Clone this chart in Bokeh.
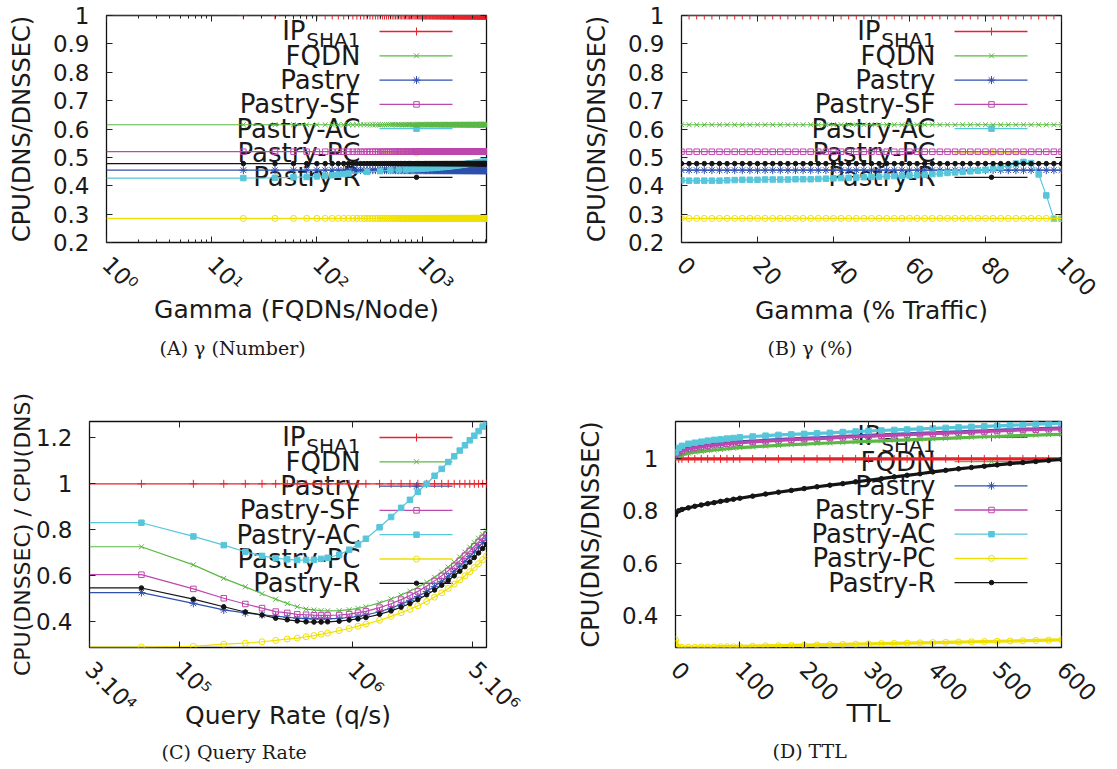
import math
from bokeh.plotting import figure
from bokeh.models import Range1d, LinearScale, FixedTicker, LinearAxis, LogAxis, Label, Title
from bokeh.layouts import column, row
from bokeh.embed import file_html
from bokeh.resources import INLINE

# ---------------- series names / styles ----------------
names = ["IP", "FQDN", "Pastry", "Pastry-SF", "Pastry-AC", "Pastry-PC", "Pastry-R"]
colors = ["#e5232a", "#5cb845", "#2f50ad", "#bd48ad", "#58c6da", "#efe000", "#141414"]
markers = ["cross", "x", "asterisk", "square", "square", "circle", "circle"]
msizes = [8, 7, 8, 5.5, 5.5, 6, 4.5]
filled = [False, False, False, False, True, False, True]

# ---------------- (a) gamma: FQDNs per node (log x) ----------------
a_x = list(range(20, 4101, 20))
a_ip = 1.0
a_fqdn = 0.615
a_pastry = 0.455
a_sf = 0.52
a_pc = 0.285
a_r = 0.478
a_ac_x = list(range(20, 201, 20)) + list(range(300, 4101, 100))
a_ac = [0.427, 0.428, 0.430, 0.431, 0.433, 0.435, 0.437, 0.439, 0.441, 0.443,
        0.449, 0.452, 0.455, 0.456, 0.457, 0.458, 0.459, 0.460,
        0.461, 0.462, 0.463, 0.464, 0.465, 0.466, 0.467, 0.468, 0.469, 0.470,
        0.471, 0.472, 0.473, 0.474, 0.475, 0.476, 0.477, 0.478, 0.479, 0.479,
        0.480, 0.481, 0.481, 0.482, 0.483, 0.483, 0.484, 0.485, 0.485, 0.486, 0.486]

# ---------------- (b) gamma: % traffic ----------------
b_x = list(range(0, 101, 2))
b_ip = 1.0
b_fqdn = 0.615
b_pastry = 0.455
b_sf = 0.52
b_pc = 0.285
b_r = 0.478
b_ac = [0.419, 0.418, 0.418, 0.418, 0.418, 0.418, 0.419, 0.420, 0.421, 0.421,
        0.421, 0.422, 0.422, 0.422, 0.422, 0.423, 0.423, 0.423, 0.424, 0.425,
        0.426, 0.427, 0.428, 0.429, 0.430, 0.431, 0.432, 0.433, 0.434, 0.435,
        0.436, 0.437, 0.439, 0.441, 0.443, 0.445, 0.447, 0.449, 0.451, 0.453,
        0.456, 0.460, 0.465, 0.472, 0.478, 0.484, 0.480, 0.440, 0.366, 0.284,
        0.284]

# ---------------- (c) query rate (log x) ----------------
c_x = [60000, 120000, 180000, 240000, 300000, 360000, 420000, 480000, 540000, 600000,
       660000, 720000, 840000, 960000, 1080000, 1200000, 1440000, 1680000, 1920000,
       2160000, 2400000, 2700000, 3000000, 3300000, 3600000, 3900000, 4200000,
       4500000, 4800000, 5100000, 5400000, 5700000, 6000000]
c_ip = 1.0
c_fqdn = [0.725, 0.646, 0.587, 0.550, 0.520, 0.496, 0.477, 0.463, 0.453, 0.449, 0.446, 0.445,
          0.446, 0.450, 0.456, 0.463, 0.480, 0.497, 0.514, 0.531, 0.548,
          0.570, 0.592, 0.614, 0.636, 0.658, 0.680, 0.702, 0.723, 0.743, 0.762, 0.779, 0.795]
c_pastry = [0.525, 0.478, 0.449, 0.436, 0.428, 0.422, 0.417, 0.413, 0.411, 0.410, 0.410, 0.410,
            0.412, 0.416, 0.421, 0.427, 0.441, 0.457, 0.474, 0.491, 0.508,
            0.530, 0.552, 0.574, 0.596, 0.618, 0.640, 0.661, 0.682, 0.703, 0.723, 0.743, 0.762]
c_sf = [0.603, 0.541, 0.500, 0.475, 0.457, 0.442, 0.436, 0.430, 0.428, 0.426, 0.425, 0.425,
        0.427, 0.431, 0.437, 0.443, 0.459, 0.476, 0.494, 0.512, 0.530,
        0.553, 0.576, 0.598, 0.620, 0.642, 0.664, 0.686, 0.707, 0.727, 0.746, 0.764, 0.780]
c_ac = [0.830, 0.770, 0.732, 0.703, 0.685, 0.675, 0.670, 0.667, 0.667, 0.668, 0.672, 0.677,
        0.690, 0.712, 0.735, 0.760, 0.810, 0.855, 0.895, 0.930, 0.965,
        1.000, 1.035, 1.065, 1.095, 1.120, 1.145, 1.168, 1.190, 1.210, 1.230, 1.250, 1.270]
c_pc = [0.287, 0.290, 0.300, 0.304, 0.310, 0.316, 0.322, 0.326, 0.332, 0.337, 0.343, 0.348,
        0.359, 0.368, 0.378, 0.387, 0.404, 0.421, 0.437, 0.452, 0.467,
        0.486, 0.505, 0.524, 0.543, 0.562, 0.580, 0.598, 0.616, 0.634, 0.651, 0.668, 0.685]
c_r = [0.545, 0.496, 0.463, 0.440, 0.427, 0.413, 0.406, 0.401, 0.397, 0.396, 0.396, 0.397,
       0.400, 0.405, 0.410, 0.416, 0.430, 0.445, 0.461, 0.477, 0.494,
       0.515, 0.536, 0.557, 0.578, 0.598, 0.618, 0.638, 0.658, 0.678, 0.698, 0.717, 0.735]

# ---------------- (d) TTL ----------------
d_x = [0, 5, 10, 20, 30, 40, 50, 60, 70, 80, 90, 100] + list(range(120, 601, 20))
d_ip = 1.0
d_fqdn = [1.003, 1.011, 1.015, 1.022, 1.026, 1.029, 1.032, 1.034, 1.036, 1.039, 1.041, 1.043,
          1.046, 1.049, 1.052, 1.055, 1.057, 1.059, 1.061, 1.063, 1.065, 1.067, 1.069, 1.071,
          1.073, 1.075, 1.077, 1.079, 1.081, 1.083, 1.085, 1.086, 1.088, 1.090, 1.091, 1.093, 1.094]
d_pastry = [1.013, 1.027, 1.033, 1.041, 1.045, 1.049, 1.053, 1.056, 1.058, 1.061, 1.063, 1.065,
            1.068, 1.071, 1.074, 1.077, 1.079, 1.081, 1.083, 1.086, 1.088, 1.090, 1.092, 1.094,
            1.096, 1.098, 1.100, 1.102, 1.104, 1.106, 1.108, 1.110, 1.112, 1.114, 1.115, 1.117, 1.118]
d_sf = [1.010, 1.024, 1.030, 1.038, 1.042, 1.046, 1.050, 1.053, 1.055, 1.058, 1.060, 1.062,
        1.065, 1.068, 1.071, 1.074, 1.076, 1.078, 1.080, 1.083, 1.085, 1.087, 1.089, 1.091,
        1.093, 1.095, 1.097, 1.099, 1.101, 1.103, 1.105, 1.107, 1.109, 1.111, 1.112, 1.114, 1.115]
d_ac = [1.025, 1.042, 1.050, 1.058, 1.062, 1.066, 1.070, 1.073, 1.075, 1.078, 1.080, 1.083,
        1.086, 1.089, 1.092, 1.094, 1.096, 1.098, 1.100, 1.103, 1.105, 1.107, 1.109, 1.111,
        1.113, 1.115, 1.117, 1.119, 1.121, 1.123, 1.125, 1.127, 1.129, 1.131, 1.133, 1.135, 1.137]
d_pc = [0.305, 0.278, 0.277, 0.277, 0.277, 0.278, 0.278, 0.278, 0.279, 0.279, 0.279, 0.280,
        0.281, 0.282, 0.283, 0.284, 0.285, 0.286, 0.287, 0.288, 0.289, 0.290, 0.291, 0.292,
        0.293, 0.294, 0.295, 0.296, 0.297, 0.298, 0.299, 0.300, 0.301, 0.302, 0.303, 0.304, 0.305]
d_r = [0.785, 0.801, 0.806, 0.812, 0.818, 0.823, 0.828, 0.832, 0.837, 0.841, 0.845, 0.849,
       0.857, 0.865, 0.872, 0.879, 0.886, 0.893, 0.899, 0.905, 0.912, 0.918, 0.924, 0.931,
       0.937, 0.943, 0.950, 0.956, 0.962, 0.967, 0.972, 0.977, 0.982, 0.986, 0.990, 0.994, 0.998]

# ---------------- tick labels ----------------
a_xticks = [1, 10, 100, 1000]
a_xminor = [2, 3, 4, 5, 6, 7, 8, 9, 20, 30, 40, 50, 60, 70, 80, 90,
            200, 300, 400, 500, 600, 700, 800, 900, 2000, 3000, 4000]
a_xlabels = {1: "10\u2070", 10: "10\u00b9", 100: "10\u00b2", 1000: "10\u00b3"}
ab_yticks = [0.2, 0.3, 0.4, 0.5, 0.6, 0.7, 0.8, 0.9, 1.0]
b_xticks = [0, 20, 40, 60, 80, 100]
c_xticks = [30000, 100000, 1000000, 5000000]
c_xlabels = {30000: "3.10\u2074", 100000: "10\u2075", 1000000: "10\u2076", 5000000: "5.10\u2076"}
c_yticks = [0.4, 0.6, 0.8, 1.0, 1.2]
d_xticks = [0, 100, 200, 300, 400, 500, 600]
d_yticks = [0.4, 0.6, 0.8, 1.0]
y_labels = {1.0: "1"}

FONT = "DejaVu Sans"
SERIF = "DejaVu Serif"
TXT = "#1a1a1a"


def make_panel(ox, oy, W, H, box, x_log, xr, yr, xticks, xminor, xlabels, yticks,
               series, lead, ytitle, ytitle_size, y_as, xtitle, x_as, caption, cap_off, cap_sd,
               data_lw=1.2):
    fl, ft, frr, fb = box
    fw, fh = frr - fl, fb - ft
    p = figure(width=W, height=H, x_axis_type="log" if x_log else "linear",
               x_range=Range1d(*xr), y_range=Range1d(*yr),
               output_backend="svg", toolbar_location=None,
               min_border_left=fl - ox, min_border_right=ox + W - frr,
               min_border_top=ft - oy, min_border_bottom=oy + H - fb)
    p.grid.visible = False
    p.outline_line_color = "#111111"
    p.outline_line_width = 1.3
    p.background_fill_color = "white"
    p.border_fill_color = "white"
    # frame-relative pixel coordinate system for the key
    p.extra_x_ranges = {"px": Range1d(0, fw)}
    p.extra_y_ranges = {"px": Range1d(fh, 0)}
    p.extra_x_scales = {"px": LinearScale()}
    p.extra_y_scales = {"px": LinearScale()}

    xa = p.xaxis[0]
    ya = p.yaxis[0]
    xa.ticker = FixedTicker(ticks=xticks, minor_ticks=xminor)
    ya.ticker = FixedTicker(ticks=yticks)
    if xlabels:
        xa.major_label_overrides = xlabels
    ya.major_label_overrides = y_labels
    xa.major_label_orientation = -math.pi / 4
    xa.major_label_standoff = 18
    ya.major_label_standoff = 17
    AxT = LogAxis if x_log else LinearAxis
    ta = AxT(ticker=FixedTicker(ticks=xticks, minor_ticks=xminor))
    ra = LinearAxis(ticker=FixedTicker(ticks=yticks))
    p.add_layout(ta, "above")
    p.add_layout(ra, "right")
    for ax in (xa, ya, ta, ra):
        ax.axis_line_color = None
        ax.major_tick_in = 6
        ax.major_tick_out = 0
        ax.minor_tick_in = 3
        ax.minor_tick_out = 0
        ax.major_tick_line_color = "#222222"
        ax.minor_tick_line_color = "#222222"
        ax.major_label_text_font = FONT
        ax.major_label_text_font_size = "23px"
        ax.major_label_text_color = TXT
    for ax in (ta, ra):
        ax.major_label_text_font_size = "1px"
        ax.major_label_text_alpha = 0
        ax.major_label_standoff = 0

    # axis titles
    ya.axis_label = ytitle
    ya.axis_label_text_font = FONT
    ya.axis_label_text_font_size = ytitle_size
    ya.axis_label_text_font_style = "normal"
    ya.axis_label_text_color = TXT
    ya.axis_label_standoff = y_as
    xa.axis_label = xtitle
    xa.axis_label_text_font = FONT
    xa.axis_label_text_font_size = "25px"
    xa.axis_label_text_font_style = "normal"
    xa.axis_label_text_color = TXT
    xa.axis_label_standoff = x_as

    # caption
    p.add_layout(Title(text=caption, align="left", offset=cap_off, standoff=cap_sd,
                       text_font=SERIF, text_font_size="19px", text_font_style="normal",
                       text_color=TXT), "below")

    def lab(x, y, text, size):
        p.add_layout(Label(x=x, y=y, x_range_name="px", y_range_name="px",
                           text=text, text_font=FONT, text_font_size=size,
                           text_color=TXT, text_align="right", text_baseline="middle",
                           level="underlay"))

    # ----- key (drawn first, data on top) -----
    for i, nm in enumerate(names):
        ry = 16 + 24.3 * i
        p.line([fw - 107, fw - 34], [ry, ry], x_range_name="px", y_range_name="px",
               line_color=colors[i], line_width=1.3)
        p.scatter([fw - 70], [ry], x_range_name="px", y_range_name="px",
                  marker=markers[i], size=msizes[i], line_color=colors[i],
                  fill_color=colors[i] if filled[i] else None, line_width=1)
        tx = fw - 126
        if nm == "IP":
            lab(tx, ry + 8, "SHA1", "20px")
            lab(tx - 55, ry - 1, "IP", "26px")
        else:
            lab(tx, ry, nm, "26px")

    # ----- data -----
    for i, (xs, ys) in enumerate(series):
        lx = [lead] + xs if lead is not None else xs
        ly = [ys[0]] + ys if lead is not None else ys
        p.line(lx, ly, line_color=colors[i], line_width=data_lw)
        p.scatter(xs, ys, marker=markers[i], size=msizes[i], line_color=colors[i],
                  fill_color=colors[i] if filled[i] else None, line_width=1)
    return p


def const(xs, v):
    return [v] * len(xs)


pA = make_panel(0, 0, 560, 388, (106, 15, 486, 242), True, (1, 4100), (0.2, 1.0),
                a_xticks, a_xminor, a_xlabels, ab_yticks,
                [(a_x, const(a_x, a_ip)), (a_x, const(a_x, a_fqdn)), (a_x, const(a_x, a_pastry)),
                 (a_x, const(a_x, a_sf)), (a_ac_x, a_ac), (a_x, const(a_x, a_pc)),
                 (a_x, const(a_x, a_r))],
                1, "CPU(DNS/DNSSEC)", "24px", 14, "Gamma (FQDNs/Node)", -14,
                "(A) \u03b3 (Number)", 53, 15)

pB = make_panel(560, 0, 557, 388, (681, 15, 1061, 242), False, (0, 100), (0.2, 1.0),
                b_xticks, [], None, ab_yticks,
                [(b_x, const(b_x, b_ip)), (b_x, const(b_x, b_fqdn)), (b_x, const(b_x, b_pastry)),
                 (b_x, const(b_x, b_sf)), (b_x, b_ac), (b_x, const(b_x, b_pc)),
                 (b_x, const(b_x, b_r))],
                None, "CPU(DNS/DNSSEC)", "24px", 14, "Gamma (% Traffic)", -11,
                "(B) \u03b3 (%)", 86, 15)

pC = make_panel(0, 388, 560, 381, (89, 421, 486, 647), True, (30000, 6000000), (0.285, 1.272),
                c_xticks, [], c_xlabels, c_yticks,
                [(c_x, const(c_x, c_ip)), (c_x, c_fqdn), (c_x, c_pastry), (c_x, c_sf),
                 (c_x, c_ac), (c_x, c_pc), (c_x, c_r)],
                30000, "CPU(DNSSEC) / CPU(DNS)", "22px", -2, "Query Rate (q/s)", -29,
                "(C) Query Rate", 72, 12)

pD = make_panel(560, 388, 557, 381, (675, 420, 1061, 647), False, (0, 600), (0.276, 1.1435),
                d_xticks, [], None, d_yticks,
                [(d_x, const(d_x, d_ip)), (d_x, d_fqdn), (d_x, d_pastry), (d_x, d_sf),
                 (d_x, d_ac), (d_x, d_pc), (d_x, d_r)],
                None, "CPU(DNS/DNSSEC)", "24px", 14, "TTL", -13,
                "(D) TTL", 97, 14, data_lw=3.2)

layout = column(row(pA, pB), row(pC, pD))
open("out.html", "w").write(file_html(layout, INLINE))
